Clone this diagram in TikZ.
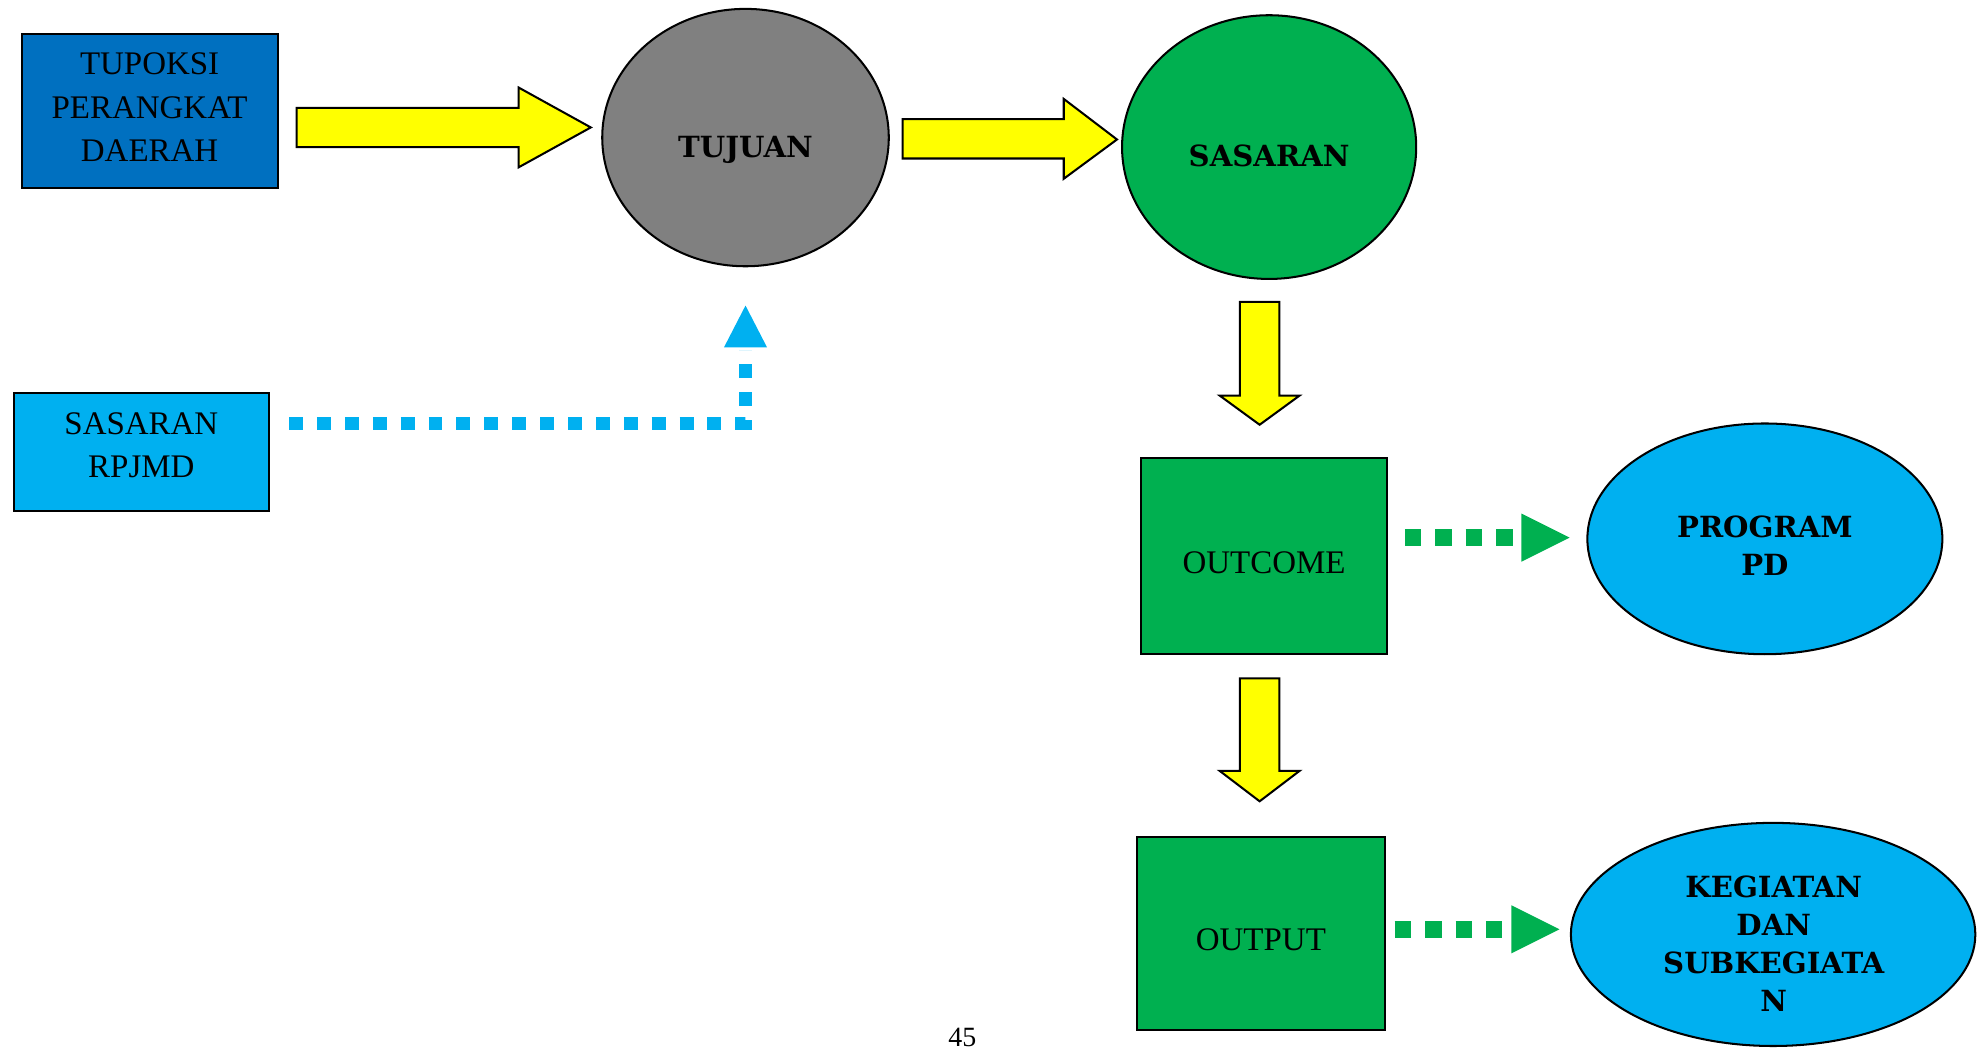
\documentclass[tikz,border=0pt]{standalone}
\usepackage{fontspec}
\setmainfont{Liberation Serif}
\newfontfamily\labfont{DejaVu Serif}
\usetikzlibrary{shapes.geometric}
\definecolor{dblue}{HTML}{0070C0}
\definecolor{lblue}{HTML}{00B0F0}
\definecolor{ggreen}{HTML}{00B050}
\definecolor{ggray}{HTML}{808080}
\definecolor{yyellow}{HTML}{FFFF00}
\tikzset{
  box/.style={draw=black, line width=0.8pt, inner sep=0pt},
  boxtext/.style={align=center, inner sep=0pt, font=\fontsize{13}{17}\selectfont},
  oval/.style={ellipse, draw=black, line width=0.8pt, inner sep=0pt},
  ovaltext/.style={align=center, inner sep=0pt, font=\labfont\bfseries\fontsize{11.5}{15}\selectfont},
  yarrow/.style={fill=yyellow, draw=black, line width=0.8pt, line join=miter},
  bluedots/.style={draw=lblue, line width=5.5pt, dash pattern=on 5.5pt off 5.5pt},
  greendots/.style={draw=ggreen, line width=6.5pt, dash pattern=on 6.5pt off 5.5pt},
}
\begin{document}
\begin{tikzpicture}[x=0.5pt, y=-0.5pt]
\useasboundingbox (0,0) rectangle (1568,827);

% boxes
\node[box, fill=dblue, minimum width=101pt, minimum height=60.5pt] (tupoksi) at (118,87.5) {};
\node[boxtext] (tupoksitext) at (118,84.5) {TUPOKSI\\PERANGKAT\\DAERAH};
\node[box, fill=lblue, minimum width=100.5pt, minimum height=46.5pt] (rpjmd) at (111.5,356.5) {};
\node[boxtext] (rpjmdtext) at (111.5,351.5) {SASARAN\\RPJMD};
\node[box, fill=ggreen, minimum width=97pt, minimum height=77.5pt] (outcome) at (997,438.5) {};
\node[boxtext] (outcometext) at (997,443.5) {OUTCOME};
\node[box, fill=ggreen, minimum width=97.5pt, minimum height=76pt] (output) at (994.5,736) {};
\node[boxtext] (outputtext) at (994.5,741) {OUTPUT};

% ellipses
\node[oval, fill=ggray, minimum width=113pt, minimum height=101.5pt] (tujuan) at (588,108.5) {};
\node[ovaltext] (tujuantext) at (588,118) {TUJUAN};
\node[oval, fill=ggreen, minimum width=116pt, minimum height=104pt] (sasaran) at (1001,116) {};
\node[ovaltext] (sasarantext) at (1001,123) {SASARAN};
\node[oval, fill=lblue, minimum width=140pt, minimum height=91pt] (program) at (1392,425) {};
\node[ovaltext] (programtext) at (1392,430) {PROGRAM\\PD};
\node[oval, fill=lblue, minimum width=159.5pt, minimum height=88pt] (kegiatan) at (1398.5,737) {};
\node[ovaltext] (kegtext) at (1399,744) {KEGIATAN\\DAN\\SUBKEGIATA\\N};

% yellow block arrows
\draw[yarrow] (234,85) -- (409,85) -- (409,69) -- (466,100.5) -- (409,132) -- (409,116) -- (234,116) -- cycle;
\draw[yarrow] (712,94) -- (839,94) -- (839,78) -- (881,110) -- (839,141) -- (839,125) -- (712,125) -- cycle;
\draw[yarrow] (978,238) -- (1009,238) -- (1009,312) -- (1025,312) -- (993.5,335) -- (962,312) -- (978,312) -- cycle;
\draw[yarrow] (978,535) -- (1009,535) -- (1009,608) -- (1025,608) -- (993.5,632) -- (962,608) -- (978,608) -- cycle;

% blue dotted connector
\coordinate (bcorner) at (588,334);
\coordinate (bend) at (588,276);
\draw[bluedots] (228,334) -- (bcorner) -- (bend);
\fill[lblue] (571,274) -- (588,241) -- (605,274) -- cycle;

% green dotted connectors
\draw[greendots] (1108,424) -- (1200,424);
\fill[ggreen] (1200,405) -- (1238,424) -- (1200,443) -- cycle;
\draw[greendots] (1100,733) -- (1192,733);
\fill[ggreen] (1192,714) -- (1230,733) -- (1192,752) -- cycle;

% page number
\node[font=\fontsize{11}{13}\selectfont] (pnum) at (759,818) {45};
\end{tikzpicture}
\end{document}
